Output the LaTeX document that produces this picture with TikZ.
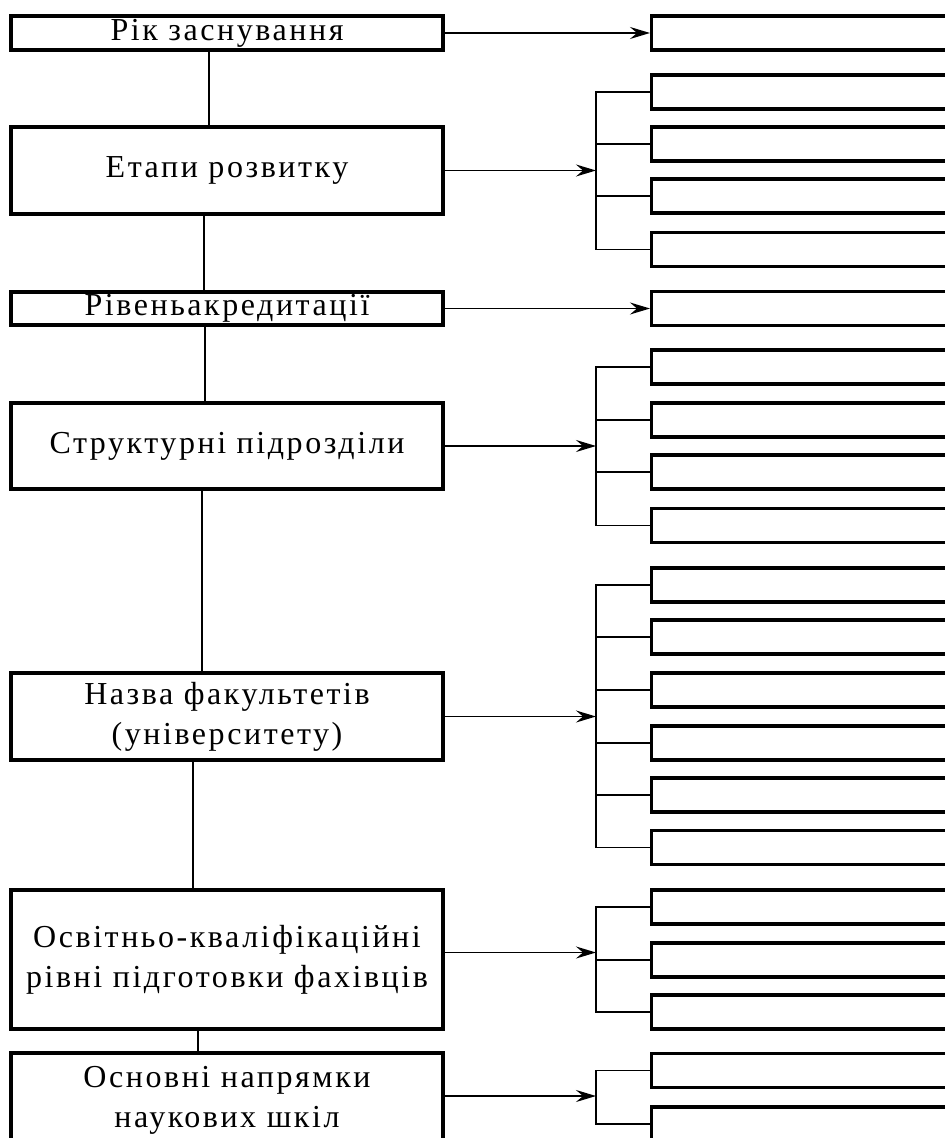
\documentclass[tikz,border=0pt]{standalone}
\usepackage{fontspec}
\setmainfont{Liberation Serif}[LetterSpace=8]
\usetikzlibrary{arrows.meta}

\begin{document}
\begin{tikzpicture}[x=0.5pt, y=-0.5pt,
  leftbox/.style={draw, line width=1.6pt, minimum width=216pt, inner sep=0pt, align=center, font=\fontsize{16pt}{20pt}\selectfont},
  rightbox/.style={draw, line width=1.6pt, minimum width=160pt, minimum height=17pt, inner sep=0pt, anchor=west},
  link/.style={line width=0.9pt},
  arrow/.style={link, -{Stealth[length=10pt, width=6pt, inset=3.5pt]}}]
\useasboundingbox (0,0) rectangle (945,1138);
\clip (0,0) rectangle (945,1138);
% Draw boxes on the left
\node[leftbox, minimum height=17pt] (year) at (227,33) {Рік заснування};
\node[leftbox, minimum height=43.5pt] (stages) at (227,170.5) {Етапи розвитку};
\node[leftbox, minimum height=16.5pt] (level) at (227,308.5) {Рівеньакредитації};
\node[leftbox, minimum height=43pt] (units) at (227,446) {Структурні підрозділи};
\node[leftbox, minimum height=43.5pt] (faculties) at (227,716.5) {Назва факультетів\\(університету)};
\node[leftbox, minimum height=69.5pt] (degrees) at (227,959.5) {Освітньо-кваліфікаційні\\рівні підготовки фахівців};
\node[leftbox, minimum height=47pt] (schools) at (227,1100) {Основні напрямки\\наукових шкіл};
% Draw the chain between them
\draw[link] ([xshift=-9pt]year.south) -- ([xshift=-9pt]stages.north);
\draw[link] ([xshift=-11.5pt]stages.south) -- ([xshift=-11.5pt]level.north);
\draw[link] ([xshift=-11pt]level.south) -- ([xshift=-11pt]units.north);
\draw[link] ([xshift=-12.5pt]units.south) -- ([xshift=-12.5pt]faculties.north);
\draw[link] ([xshift=-17pt]faculties.south) -- ([xshift=-17pt]degrees.north);
\draw[link] ([xshift=-14.5pt]degrees.south) -- ([xshift=-14.5pt]schools.north);
% Draw single boxes on the right
\node[rightbox] (year-r) at (650,33) {};
\node[rightbox] (level-r) at (650,308.5) {};
\draw[arrow] (year) -- (year-r);
\draw[arrow] (level) -- (level-r);
% Draw forks with their boxes
\coordinate (fork-x) at (596,0);
\foreach \name/\dy/\ys in {stages/0/{92,144,196,249.5}, units/0/{367,420,472,525.5},
    faculties/0/{585,637,690,743,795,847.5}, degrees/3.5/{907,960,1012}, schools/2/{1070.5,1124}} {
  \coordinate (\name-fork) at ([yshift=\dy pt]\name.east -| fork-x);
  \draw[arrow] ([yshift=\dy pt]\name.east) -- (\name-fork);
  \foreach \y [count=\i] in \ys {
    \node[rightbox] (\name-\i) at (650,\y) {};
    \draw[link] (\name-fork) |- (\name-\i.west);
  }
}
\end{tikzpicture}
\end{document}
